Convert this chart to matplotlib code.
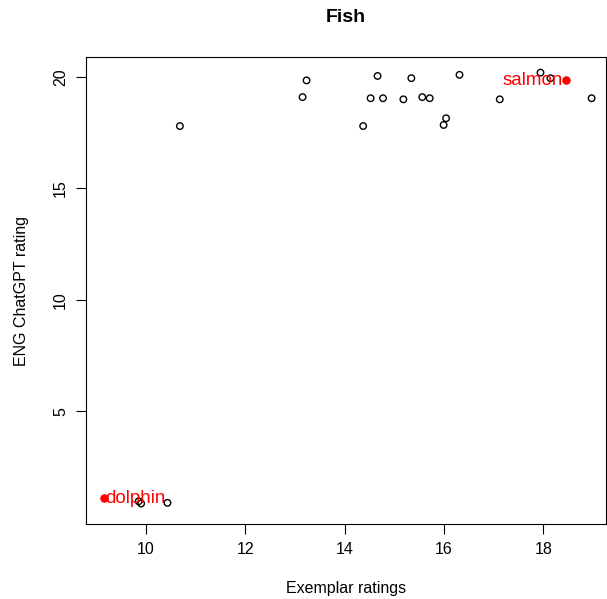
import matplotlib
matplotlib.use('Agg')
import matplotlib.pyplot as plt

plt.rcParams['font.family'] = ['Liberation Sans', 'DejaVu Sans']

# unlabelled exemplars
exemplar = [10.68, 13.15, 13.23, 14.37, 14.52, 14.66, 14.77, 15.18, 15.34, 15.56,
            15.71, 15.99, 16.04, 16.31, 17.12, 17.94, 18.14, 18.97,
            9.85, 9.90, 10.43]
chatgpt = [17.8, 19.1, 19.85, 17.8, 19.05, 20.05, 19.05, 19.0, 19.95, 19.1,
           19.05, 17.85, 18.15, 20.1, 19.0, 20.2, 19.95, 19.05,
           0.95, 0.85, 0.88]

# highlighted items
hl_names = ["salmon", "dolphin"]
hl_x = [18.45, 9.15]
hl_y = [19.85, 1.08]
hl_side = ["left", "right"]

fig = plt.figure(figsize=(6.07, 5.99), dpi=100)
ax = fig.add_axes([0.1417, 0.1252, 0.8567, 0.7796])

ax.scatter(exemplar, chatgpt, s=22, facecolors='none', edgecolors='black', linewidths=1.0, zorder=3)
ax.scatter(hl_x, hl_y, s=26, color='red', zorder=4)
for name, x, y, side in zip(hl_names, hl_x, hl_y, hl_side):
    off = -0.06 if side == "left" else 0.03
    ha = "right" if side == "left" else "left"
    ax.text(x + off, y, name, color='red', fontsize=13.5, ha=ha, va='center', zorder=5)

ax.set_xlim(8.79, 19.26)
ax.set_ylim(-0.07, 20.9)
ax.set_xticks([10, 12, 14, 16, 18])
ax.set_yticks([5, 10, 15, 20])
ax.tick_params(direction='out', length=7, width=0.8, labelsize=11.5, pad=6)
for lab in ax.get_yticklabels():
    lab.set_rotation(90)
    lab.set_va('center')
for sp in ax.spines.values():
    sp.set_linewidth(0.8)

ax.set_xlabel("Exemplar ratings", fontsize=11.5, labelpad=17)
ax.set_ylabel("ENG ChatGPT rating", fontsize=11.5, labelpad=17)
fig.suptitle("Fish", fontsize=14, fontweight='bold', x=0.57, y=0.985)

plt.savefig("out.png", dpi=100)
